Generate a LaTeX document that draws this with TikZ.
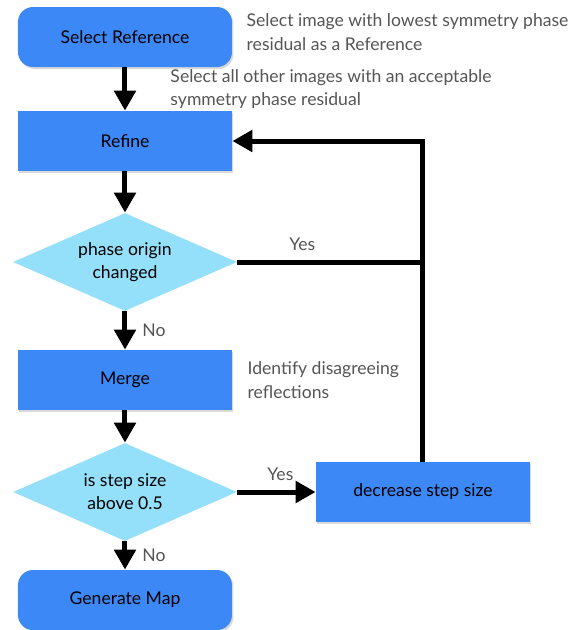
\documentclass[tikz,border=0pt]{standalone}
\usepackage{fontspec}
\setmainfont{Lato}
\usetikzlibrary{calc,positioning,shapes.geometric,arrows.meta,shadows}
\definecolor{boxblue}{RGB}{61,136,247}
\definecolor{askblue}{RGB}{148,224,251}
\definecolor{notegray}{RGB}{85,85,85}
\tikzset{
    stepbox/.style={rectangle, fill=boxblue, minimum width=4.28cm, minimum height=1.2cm, inner sep=0mm, font=\fontsize{10}{11}\selectfont,
        drop shadow={opacity=0.3, shadow xshift=0.03cm, shadow yshift=-0.04cm}},
    endbox/.style={stepbox, rounded corners=0.3cm},
    askbox/.style={diamond, aspect=2.29, fill=askblue, minimum width=4.48cm, minimum height=1.96cm, inner sep=0mm, align=center, font=\fontsize{10}{13}\selectfont},
    flow/.style={line width=0.1cm, -{Triangle[length=0.4cm,width=0.42cm]}},
    link/.style={line width=0.1cm},
    note/.style={text=notegray, align=left, inner sep=0mm, font=\fontsize{10}{13.6}\selectfont},
    node distance=2
}
\begin{document}
\begin{tikzpicture}[node distance=2cm,on grid, auto]
  \useasboundingbox (-2.5,0.74) rectangle (8.9,-11.86);
  \node[endbox] (sel) {Select Reference};
  \node[stepbox, below = 2.08cm of sel] (ref) {Refine};
  \node[askbox, below = 2.42cm of ref] (ask1) {phase origin\\changed};
  \node[stepbox, below = 2.36cm of ask1] (mrg) {Merge};
  \node[askbox, below = 2.24cm of mrg] (ask2) {is step size\\above 0.5};
  \node[endbox, below = 2.16cm of ask2] (gen) {Generate Map};
  \node[stepbox, right = 5.96cm of ask2] (dec) {decrease step size};
  \coordinate (back) at (dec |- ref);

  % side notes
  \node[note, anchor=west] (n1) at ($(sel.east)+(0.28,0.1)$) {Select image with lowest symmetry phase\\residual as a Reference};
  \node[note, anchor=west] (n3) at ($(mrg.east)+(0.3,0)$) {Identify disagreeing\\reflections};

  \draw
  (sel) edge[flow] node[note, right=0.86cm] (n2) {Select all other images with an acceptable\\symmetry phase residual} (ref)
  (ref) edge[flow] (ask1)
  (ask1) edge[flow] node[note, right=0.3cm] {No} (mrg)
  (mrg) edge[flow] (ask2)
  (ask2) edge[flow] node[note, right=0.3cm] {No} (gen)
  (ask2) edge[flow] node[note, above=0.17cm, pos=0.55] {Yes} (dec)
  ;
  \draw[link] (ask1.east) -- node[note, above=0.17cm, pos=0.35] {Yes} (ask1 -| back);
  \draw[flow] (dec.north) -- (back) -- (ref);
\end{tikzpicture}
\end{document}
